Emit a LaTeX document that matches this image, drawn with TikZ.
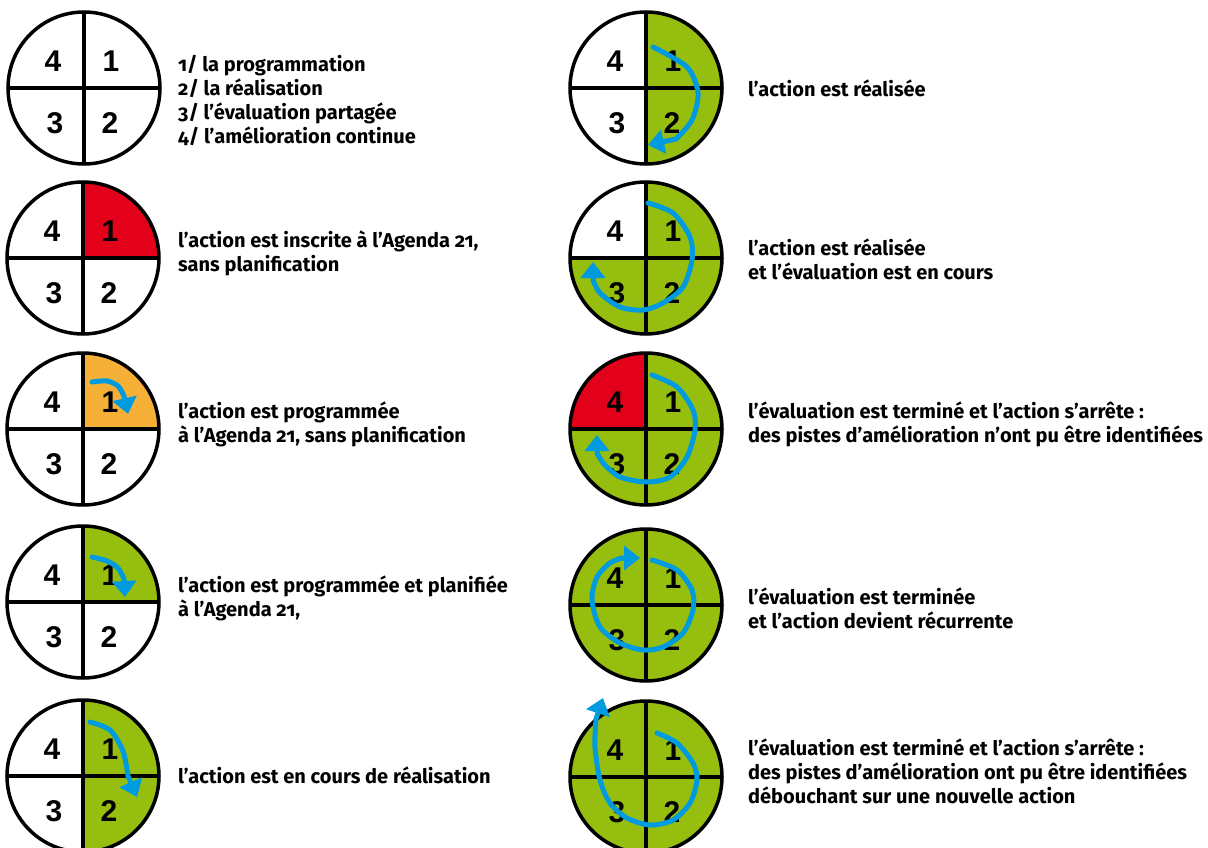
\documentclass[tikz,border=0pt]{standalone}
\usepackage{fontspec}
\setmainfont{Fira Sans}[Numbers=OldStyle]
\newfontfamily\numfont{Liberation Sans}
\usetikzlibrary{arrows.meta,positioning}
\definecolor{leafgreen}{RGB}{150,190,14}
\definecolor{alertred}{RGB}{226,0,26}
\definecolor{planorange}{RGB}{246,176,55}
\definecolor{flowblue}{RGB}{0,155,222}

\tikzset{
  disc/.style={line width=3.5pt},
  qnum/.style={font=\numfont\bfseries\fontsize{30}{30}\selectfont, inner sep=0pt},
  caption/.style={anchor=west, align=left, inner sep=0pt, font=\bfseries\fontsize{20}{24}\selectfont},
  flow/.style={draw=flowblue, line width=5pt, line cap=round, line join=round, -{Triangle[length=16pt,width=24pt]}}
}

\begin{document}
\begin{tikzpicture}[x=1pt, y=1pt]
  \useasboundingbox (0,0) rectangle (1208,-848);
  % the ten discs: name/x/y/quarter 1/2/3/4
  \foreach \n/\cx/\cy/\qa/\qb/\qc/\qd in {
      1/84/-88/white/white/white/white,
      2/83/-258/alertred/white/white/white,
      3/83/-429/planorange/white/white/white,
      4/83/-602/leafgreen/white/white/white,
      5/83/-776/leafgreen/leafgreen/white/white,
      6/646/-88/leafgreen/leafgreen/white/white,
      7/646/-258/leafgreen/leafgreen/leafgreen/white,
      8/646/-429/leafgreen/leafgreen/leafgreen/alertred,
      9/646/-605/leafgreen/leafgreen/leafgreen/leafgreen,
      10/646/-777/leafgreen/leafgreen/leafgreen/leafgreen} {
    \coordinate (c\n) at (\cx,\cy);
    \fill[\qa] (c\n) -- ++(76,0) arc[start angle=0, end angle=90, radius=76] -- cycle;
    \fill[\qb] (c\n) -- ++(0,-76) arc[start angle=270, end angle=360, radius=76] -- cycle;
    \fill[\qc] (c\n) -- ++(-76,0) arc[start angle=180, end angle=270, radius=76] -- cycle;
    \fill[\qd] (c\n) -- ++(0,76) arc[start angle=90, end angle=180, radius=76] -- cycle;
    \draw[disc] (c\n) circle[radius=76];
    \draw[disc] (c\n) ++(0,76) -- ++(0,-152);
    \draw[disc] (c\n) ++(-76,0) -- ++(152,0);
    \node[qnum] (c\n-1) at ([shift={(27,27)}]c\n) {1};
    \node[qnum] (c\n-2) at ([shift={(26,-35)}]c\n) {2};
    \node[qnum] (c\n-3) at ([shift={(-29,-35)}]c\n) {3};
    \node[qnum] (c\n-4) at ([shift={(-31,27)}]c\n) {4};
  }

  % cycle arrows
  \draw[flow, shift={(c3)}] plot[smooth] coordinates {(9,47) (24,48) (35,43) (41,33)} -- (45,15);
  \draw[flow, shift={(c4)}] plot[smooth] coordinates {(9,45) (24,41) (35,34) (41,23)} -- (42,5);
  \draw[flow, shift={(c5)}] plot[smooth] coordinates {(7,54) (27,46) (40,25) (45,0)} -- (54,-21);
  \draw[flow, shift={(c6)}] plot[smooth] coordinates {(7,41) (41,21) (52,-5) (46,-32) (30,-51)} -- (2,-57);
  \draw[flow, shift={(c7)}] plot[smooth] coordinates {(2,55) (27,45) (44,21) (46,-2) (37,-29) (17,-45)
      (-3,-52) (-26,-49) (-46,-35) (-53,-22)} -- (-53,-4);
  \draw[flow, shift={(c8)}] plot[smooth] coordinates {(6,54) (31,42) (47,19) (49,-1) (41,-28) (24,-48)
      (1,-53) (-26,-48) (-42,-35) (-49,-24)} -- (-49,-6);
  \draw[flow, shift={(c9)}] plot[smooth] coordinates {(6,45) (31,35) (46,15) (47,-5) (37,-28) (17,-42)
      (-3,-45) (-26,-38) (-46,-22) (-54,5) (-49,28) (-36,42) (-24,47)} -- (-6,47);
  \draw[flow, shift={(c10)}] plot[smooth] coordinates {(11,44) (31,34) (47,14) (51,-3) (44,-26) (27,-43)
      (4,-48) (-19,-41) (-36,-26) (-46,-3) (-51,30) (-50,58)} -- (-43,79);

  % captions
  \node[caption] (t1) at (178,-100) {1/ la programmation\\2/ la réalisation\\3/ l’évaluation partagée\\4/ l’amélioration continue};
  \node[caption] (t2) at (178,-253) {l’action est inscrite à l’Agenda 21,\\sans planification};
  \node[caption] (t3) at (178,-424) {l’action est programmée\\à l’Agenda 21, sans planification};
  \node[caption] (t4) at (178,-598) {l’action est programmée et planifiée\\à l’Agenda 21,};
  \node[caption] (t5) at (178,-775) {l’action est en cours de réalisation};
  \node[caption] (t6) at (748,-88) {l’action est réalisée};
  \node[caption] (t7) at (748,-259) {l’action est réalisée\\et l’évaluation est en cours};
  \node[caption] (t8) at (748,-424) {l’évaluation est terminé et l’action s’arrête :\\des pistes d’amélioration n’ont pu être identifiées};
  \node[caption] (t9) at (748,-608) {l’évaluation est terminée\\et l’action devient récurrente};
  \node[caption] (t10) at (748,-771) {l’évaluation est terminé et l’action s’arrête :\\des pistes d’amélioration ont pu être identifiées\\débouchant sur une nouvelle action};
\end{tikzpicture}
\end{document}
